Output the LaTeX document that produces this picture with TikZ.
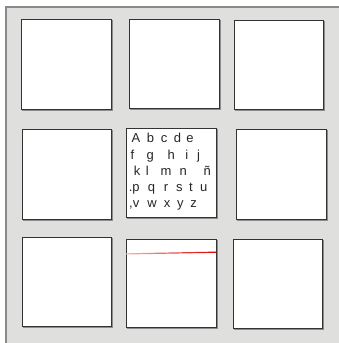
\documentclass[tikz,border=0pt]{standalone}
\usepackage{fontspec}
\setmainfont{Liberation Sans}
\begin{document}
\begin{tikzpicture}[x=1pt,y=-1pt,
  panel/.style={fill=panelgray,draw=bordergray,line width=1.6pt},
  cell/.style={fill=white,draw=black!80,line width=0.9pt},
  shadowline/.style={draw=black!45,line width=0.8pt},
  lt/.style={font=\fontsize{13}{16}\selectfont,inner sep=0pt,anchor=base,text=black!85}]
\definecolor{panelgray}{HTML}{DFDFDE}
\definecolor{bordergray}{HTML}{8A8A8A}
\useasboundingbox (0,0) rectangle (338,343);
\fill[white] (0,0) rectangle (338,343);
\draw[panel] (6,7) -- (340,7) -- (340,346) -- (6,346) -- cycle;
\foreach \a/\b/\c/\d [count=\i] in {21/19/111/109, 129/19/219/108, 234/20/323/109,
  22/129/111/219, 126/128/216/217, 236/129/326/219,
  22/237/111/326, 126/239/216/327, 233/239/322/328}{
  \draw[cell] (\a,\b) rectangle (\c,\d);
  \draw[shadowline] (\c+1,\b+1) -- (\c+1,\d+1) -- (\a+1,\d+1);
  \coordinate (box\i) at (\a,\b);
}
% red line
\shade[left color=red!30,right color=red!85!black] (126,254.5) -- (216,252.8) -- (216,251.6) -- (126,253.3) -- cycle;
% letters
\foreach \ch/\x [count=\i] in {A/136,b/150.5,c/164,d/177.5,e/190}
  \node[lt] (la\i) at (\x,142) {\ch};
\foreach \ch/\x [count=\i] in {f/132.5,g/150.3,h/171.3,i/186.7,j/198.5}
  \node[lt] (lb\i) at (\x,159) {\ch};
\foreach \ch/\x [count=\i] in {k/137,l/147.3,m/166,n/183.3,ñ/207.3}
  \node[lt] (lc\i) at (\x,175) {\ch};
\foreach \ch/\x [count=\i] in {.p/134.3,q/151.5,r/166,s/179.3,t/191,u/203.7}
  \node[lt] (ld\i) at (\x,191) {\ch};
\foreach \ch/\x [count=\i] in {{,v}/134.3,w/152,x/167,y/180.3,z/193.7}
  \node[lt] (le\i) at (\x,207.3) {\ch};
\end{tikzpicture}
\end{document}
